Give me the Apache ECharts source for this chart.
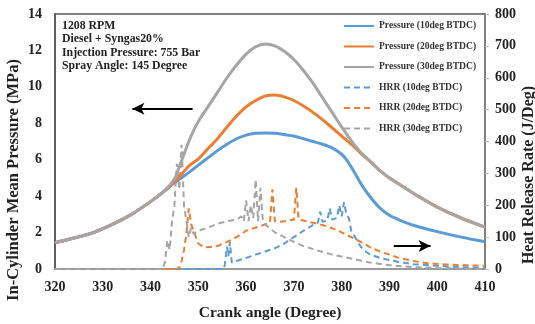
<!DOCTYPE html>
<html><head><meta charset="utf-8">
<script src="https://cdn.jsdelivr.net/npm/echarts@6/dist/echarts.min.js"></script>
<style>html,body{margin:0;padding:0;background:#fff}#c{width:535px;height:324px}</style>
</head><body><div id="c"></div>
<script>
// ---- Data ----
const xTicks = [320,330,340,350,360,370,380,390,400,410];
const seriesNames = ['Pressure (10deg BTDC)','Pressure (20deg BTDC)','Pressure (30deg BTDC)','HRR (10deg BTDC)','HRR (20deg BTDC)','HRR (30deg BTDC)'];

const p10Angle = [320,324,328,332,336,340,343,345,347,350,352,354,356,358,360,362,364,366,368,370,372,374,376,378,380,381,382,383,384,385,386,388,390,392,395,400,405,410];
const p10Val   = [1.45,1.7,2.0,2.45,3.0,3.7,4.3,4.75,5.1,5.7,6.1,6.5,6.85,7.15,7.35,7.45,7.47,7.45,7.38,7.3,7.15,7.0,6.85,6.65,6.3,6.0,5.6,5.15,4.7,4.3,3.95,3.35,2.95,2.7,2.4,2.05,1.75,1.5];

const p20Angle = [320,324,328,332,336,340,343,345,347,348,350,352,354,356,358,360,362,364,366,368,370,372,374,376,378,380,382,384,386,388,390,393,396,400,405,410];
const p20Val   = [1.45,1.7,2.0,2.45,3.0,3.7,4.3,4.8,5.35,5.65,6.05,6.6,7.15,7.8,8.4,8.9,9.25,9.5,9.55,9.45,9.25,8.95,8.6,8.2,7.75,7.3,6.85,6.35,5.9,5.4,5.0,4.5,4.0,3.4,2.8,2.3];

const p30Angle = [320,324,328,332,336,340,343,345,346,347,348,349,350,352,354,356,358,360,362,364,366,368,370,372,374,376,378,380,382,384,386,388,390,393,396,400,405,410];
const p30Val   = [1.45,1.7,2.0,2.45,3.0,3.7,4.3,4.95,5.6,6.3,7.0,7.6,8.1,8.9,9.7,10.5,11.2,11.8,12.2,12.35,12.25,11.95,11.5,10.9,10.2,9.4,8.6,7.8,7.05,6.4,5.9,5.4,5.0,4.5,4.0,3.4,2.8,2.3];

const h10Angle = [320,355,355.5,356,356.3,356.6,357,358,360,362,364,366,368,370,372,374,375,375.5,376,377,377.5,378,379,379.5,380,380.5,381,381.5,382,383,384,385,386,388,390,392,395,400,405,410];
const h10Val   = [0,0,10,70,40,85,20,25,35,45,55,65,80,100,120,138,145,180,148,152,190,155,160,200,165,210,170,160,120,95,70,55,45,35,28,22,15,10,6,4];

const h20Angle = [320,345.5,346,346.5,347,347.5,348,348.5,349,349.5,350,351,352,354,356,358,360,362,364,365,365.5,366,367,368,370,370.5,371,372,374,376,378,380,382,384,386,388,390,392,395,398,402,406,410];
const h20Val   = [0,0,5,25,60,110,190,140,120,100,80,70,68,72,85,100,120,130,140,145,250,150,148,150,155,255,155,152,145,138,128,115,100,85,68,55,45,35,25,18,14,12,10];

const h30Angle = [320,342.5,343,343.5,344,344.5,345,345.5,346,346.5,347,347.5,348,348.5,349,350,352,354,356,358,359,359.5,360,360.5,361,361.5,362,362.5,363,363.5,364,366,368,370,372,375,378,382,386,390,395,400,410];
const h30Val   = [0,0,20,90,60,150,200,330,250,390,200,150,100,130,110,120,130,142,150,155,165,150,215,150,200,160,280,150,255,150,140,115,100,85,72,58,45,33,20,12,6,3,0];

const annotationLines = ['1208 RPM','Diesel + Syngas20%','Injection Pressure: 755 Bar','Spray Angle: 145 Degree'];
const leftArrow = [[348.8,8.8],[336.2,8.8]];
const rightArrow = [[390.9,1.26],[398.6,1.26]];

// ---- Chart ----
const FONT = '"Liberation Serif","Times New Roman",serif';
const zip = (a,b)=>a.map((v,i)=>[v,b[i]]);
const colors = ['#5B9BD5','#ED7D31','#A5A5A5'];
const chart = echarts.init(document.getElementById('c'), null, {renderer:'canvas'});

function pSeries(i, ang, val, extra){
  return Object.assign({name:seriesNames[i], type:'line', yAxisIndex:0, data:zip(ang,val), smooth:0.3, symbol:'none',
    lineStyle:{color:colors[i], width:3}, itemStyle:{color:colors[i]}, z:3}, extra||{});
}
function hSeries(i, ang, val){
  return {name:seriesNames[i+3], type:'line', yAxisIndex:1, data:zip(ang,val), smooth:false, symbol:'none',
    lineStyle:{color:colors[i], width:2, type:[6,4]}, itemStyle:{color:colors[i]}, z:2};
}

const arrowML = (pts, sym) => ({silent:true, symbol:sym, symbolSize:[9,12], label:{show:false},
  lineStyle:{color:'#000', width:2, type:'solid'}, data:[[{coord:pts[0]},{coord:pts[1]}]]});

const tickLabel = {fontFamily:FONT, fontWeight:'bold', fontSize:14, color:'#222'};

chart.setOption({
  animation:false,
  backgroundColor:'#fff',
  grid:{left:55, right:50, top:14, bottom:55, show:true, borderColor:'#555', borderWidth:1.5},
  legend:{orient:'vertical', left:343, top:21, padding:0, itemWidth:30, itemHeight:10, itemGap:10.5,
    itemStyle:{opacity:0}, data:seriesNames,
    textStyle:{fontFamily:FONT, fontWeight:'bold', fontSize:9.6, color:'#333'}},
  xAxis:{type:'value', min:xTicks[0], max:xTicks[xTicks.length-1], interval:10,
    axisLine:{lineStyle:{color:'#999', width:2}}, axisTick:{show:false}, splitLine:{show:false},
    axisLabel:Object.assign({margin:11}, tickLabel)},
  yAxis:[
    {type:'value', min:0, max:14, interval:2, axisLine:{show:true, lineStyle:{color:'#555', width:1.5}},
     axisTick:{show:false}, splitLine:{show:false},
     axisLabel:Object.assign({margin:13}, tickLabel)},
    {type:'value', min:0, max:800, interval:100, position:'right', axisLine:{show:false},
     axisTick:{show:true, length:4, lineStyle:{color:'#bbb'}}, splitLine:{show:false},
     axisLabel:Object.assign({margin:10}, tickLabel)}
  ],
  graphic:[
    {type:'text', left:62, top:19, style:{text:annotationLines.join('\n'), font:'bold 11.8px '+FONT, fill:'#222', lineHeight:13.4}},
    {type:'text', x:14, y:180, rotation:Math.PI/2, style:{text:'In-Cylinder Mean Pressure (MPa)', font:'bold 16.5px '+FONT, fill:'#222', align:'center', verticalAlign:'middle'}},
    {type:'text', x:529, y:175, rotation:Math.PI/2, style:{text:'Heat Release Rate (J/Deg)', font:'bold 16px '+FONT, fill:'#222', align:'center', verticalAlign:'middle'}},
    {type:'text', x:270, y:313, style:{text:'Crank angle (Degree)', font:'bold 15.5px '+FONT, fill:'#222', align:'center', verticalAlign:'middle'}}
  ],
  series:[
    pSeries(0,p10Angle,p10Val,{markLine:arrowML(leftArrow,['none','arrow'])}),
    pSeries(1,p20Angle,p20Val,{markLine:arrowML(rightArrow,['none','arrow'])}),
    pSeries(2,p30Angle,p30Val),
    hSeries(0,h10Angle,h10Val),
    hSeries(1,h20Angle,h20Val),
    hSeries(2,h30Angle,h30Val)
  ]
});
</script></body></html>
